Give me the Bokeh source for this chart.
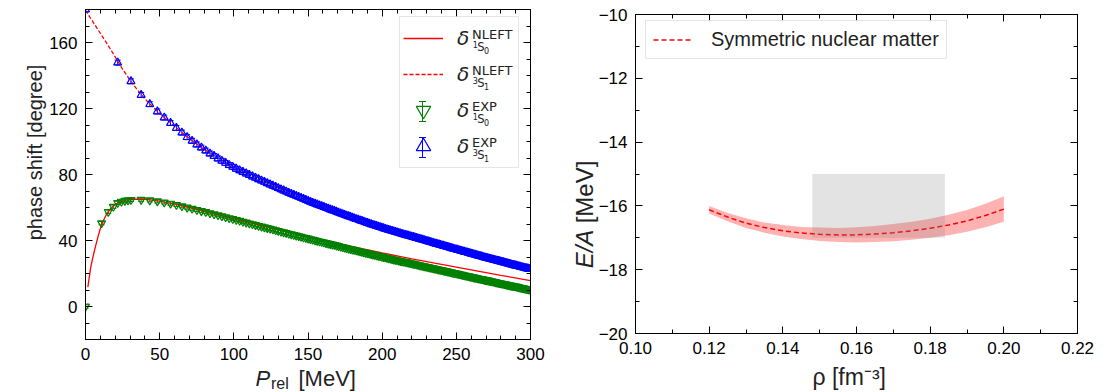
from math import pi
from bokeh.plotting import figure
from bokeh.layouts import row, column
from bokeh.models import (Range1d, LinearAxis, FixedTicker, CustomJSTickFormatter, Label,
                          Legend, LegendItem, ColumnDataSource, Whisker, TeeHead)
from bokeh.embed import file_html
from bokeh.resources import INLINE

# ------------------------------------------------------------------ data (left panel)
# relative momenta of the phase-shift analysis points, E_lab = 1 ... 191 MeV  [MeV]
p_grid = [21.67, 30.64, 37.53, 43.33, 48.45, 53.07, 57.33, 61.28, 65.0, 68.52, 71.86, 75.06,
          78.12, 81.07, 83.92, 86.67, 89.33, 91.92, 94.44, 96.9, 99.29, 101.63, 103.91, 106.15,
          108.34, 110.48, 112.58, 114.65, 116.68, 118.68, 120.64, 122.57, 124.47, 126.34, 128.18,
          130.0, 131.8, 133.56, 135.31, 137.03, 138.74, 140.42, 142.08, 143.72, 145.35, 146.95,
          148.54, 150.11, 151.67, 153.21, 154.73, 156.24, 157.74, 159.22, 160.69, 162.14, 163.58,
          165.01, 166.43, 167.83, 169.22, 170.61, 171.98, 173.34, 174.68, 176.02, 177.35, 178.67,
          179.98, 181.28, 182.57, 183.85, 185.12, 186.39, 187.64, 188.89, 190.13, 191.36, 192.58,
          193.8, 195.0, 196.2, 197.4, 198.58, 199.76, 200.93, 202.1, 203.25, 204.4, 205.55,
          206.69, 207.82, 208.95, 210.07, 211.18, 212.29, 213.4, 214.49, 215.58, 216.67, 217.75,
          218.82, 219.9, 220.96, 222.02, 223.07, 224.12, 225.17, 226.21, 227.24, 228.28, 229.3,
          230.32, 231.34, 232.35, 233.36, 234.36, 235.36, 236.36, 237.35, 238.34, 239.32, 240.3,
          241.27, 242.24, 243.21, 244.17, 245.13, 246.09, 247.04, 247.99, 248.93, 249.87, 250.81,
          251.75, 252.68, 253.6, 254.53, 255.45, 256.36, 257.28, 258.19, 259.1, 260.0, 260.9,
          261.8, 262.7, 263.59, 264.48, 265.36, 266.25, 267.13, 268.0, 268.88, 269.75, 270.62,
          271.48, 272.35, 273.21, 274.06, 274.92, 275.77, 276.62, 277.47, 278.31, 279.16, 280.0,
          280.83, 281.67, 282.5, 283.33, 284.16, 284.98, 285.8, 286.63, 287.44, 288.26, 289.07,
          289.88, 290.69, 291.5, 292.3, 293.1, 293.9, 294.7, 295.5, 296.29, 297.08, 297.87,
          298.66, 299.44]

p_exp_3s1 = [0.0] + p_grid
delta_exp_3s1 = [180.0,
                 147.8, 136.5, 128.2, 122.6, 118.2, 114.5, 111.2, 108.2, 105.4, 102.6, 100.4,
                 98.2, 96.3, 94.5, 92.7, 91.2, 89.7, 88.3, 87.0, 85.7, 84.6, 83.5, 82.5, 81.5,
                 80.6, 79.7, 78.8, 78.0, 77.1, 76.3, 75.5, 74.7, 73.95, 73.2, 72.45, 71.7, 71.0,
                 70.3, 69.6, 68.9, 68.25, 67.6, 67.0, 66.4, 65.8, 65.2, 64.6, 64.0, 63.4, 62.8,
                 62.3, 61.8, 61.3, 60.8, 60.3, 59.8, 59.3, 58.8, 58.35, 57.9, 57.4, 56.9, 56.45,
                 56.0, 55.55, 55.1, 54.7, 54.3, 53.85, 53.4, 53.0, 52.6, 52.2, 51.8, 51.4, 51.0,
                 50.6, 50.2, 49.85, 49.5, 49.15, 48.8, 48.45, 48.1, 47.75, 47.4, 47.05, 46.7, 46.4,
                 46.1, 45.8, 45.5, 45.2, 44.9, 44.6, 44.3, 44.0, 43.7, 43.45, 43.2, 42.9, 42.6,
                 42.35, 42.1, 41.8, 41.5, 41.25, 41.0, 40.75, 40.5, 40.2, 39.9, 39.65, 39.4, 39.15,
                 38.9, 38.6, 38.3, 38.05, 37.8, 37.55, 37.3, 37.05, 36.8, 36.55, 36.3, 36.05, 35.8,
                 35.55, 35.3, 35.05, 34.8, 34.6, 34.4, 34.15, 33.9, 33.65, 33.4, 33.2, 33.0, 32.75,
                 32.5, 32.25, 32.0, 31.8, 31.6, 31.35, 31.1, 30.9, 30.7, 30.5, 30.3, 30.05, 29.8,
                 29.6, 29.4, 29.2, 29.0, 28.8, 28.6, 28.4, 28.2, 28.0, 27.8, 27.6, 27.4, 27.2,
                 27.0, 26.8, 26.6, 26.4, 26.2, 26.0, 25.8, 25.6, 25.4, 25.2, 25.0, 24.85, 24.7,
                 24.5, 24.3, 24.1, 23.9, 23.75, 23.6, 23.4, 23.2, 23.05, 22.9, 22.7]

p_exp_1s0 = [0.0, 10.83, 15.32, 18.76, 21.67, 24.22, 26.54, 28.66] + p_grid[1:]
delta_exp_1s0 = [0.0, 50.5, 57.4, 60.5, 62.8, 63.6, 64.1, 64.4,
                 64.6, 64.7, 64.4, 63.8, 63.1, 62.4, 61.6, 60.8, 60.0, 59.3, 58.6, 57.9, 57.3,
                 56.6, 56.0, 55.4, 54.8, 54.2, 53.6, 53.1, 52.5, 52.0, 51.4, 50.9, 50.4, 49.9,
                 49.4, 48.9, 48.5, 48.05, 47.6, 47.15, 46.7, 46.25, 45.8, 45.4, 45.0, 44.6, 44.2,
                 43.8, 43.4, 43.05, 42.7, 42.3, 41.9, 41.55, 41.2, 40.85, 40.5, 40.15, 39.8, 39.5,
                 39.2, 38.85, 38.5, 38.2, 37.9, 37.6, 37.3, 36.95, 36.6, 36.3, 36.0, 35.7, 35.4,
                 35.1, 34.8, 34.55, 34.3, 34.0, 33.7, 33.4, 33.1, 32.85, 32.6, 32.3, 32.0, 31.75,
                 31.5, 31.25, 31.0, 30.75, 30.5, 30.25, 30.0, 29.75, 29.5, 29.25, 29.0, 28.75,
                 28.5, 28.3, 28.1, 27.85, 27.6, 27.4, 27.2, 27.0, 26.8, 26.55, 26.3, 26.1, 25.9,
                 25.7, 25.5, 25.25, 25.0, 24.8, 24.6, 24.4, 24.2, 24.0, 23.8, 23.6, 23.4, 23.2,
                 23.0, 22.8, 22.6, 22.4, 22.2, 22.0, 21.8, 21.6, 21.4, 21.2, 21.0, 20.8, 20.6,
                 20.4, 20.2, 20.05, 19.9, 19.7, 19.5, 19.3, 19.1, 18.9, 18.7, 18.55, 18.4, 18.2,
                 18.0, 17.8, 17.6, 17.45, 17.3, 17.1, 16.9, 16.75, 16.6, 16.4, 16.2, 16.05, 15.9,
                 15.75, 15.6, 15.4, 15.2, 15.05, 14.9, 14.7, 14.5, 14.35, 14.2, 14.05, 13.9, 13.75,
                 13.6, 13.4, 13.2, 13.05, 12.9, 12.75, 12.6, 12.45, 12.3, 12.15, 12.0, 11.8, 11.6,
                 11.45, 11.3, 11.15, 11.0, 10.85, 10.7, 10.55, 10.4, 10.25]

err_1s0 = 1.0
err_3s1 = 1.5

p_nleft_1s0 = [1.6, 2.5, 3.4, 4.5, 5.6, 7, 8.5, 10, 12, 14, 17, 20, 24, 28, 33, 40, 45, 50, 60,
               70, 80, 90, 100, 120, 140, 160, 180, 200, 220, 240, 260, 280, 300]
delta_nleft_1s0 = [11.7, 17.5, 23.0, 28.0, 32.2, 37.3, 42.5, 47.3, 52.0, 55.6, 59.4, 61.8, 63.7,
                   64.6, 65.1, 65.0, 64.5, 63.8, 62.1, 60.0, 57.7, 55.4, 53.1, 48.6, 44.3, 40.2,
                   36.3, 32.5, 28.9, 25.5, 22.2, 18.9, 15.7]

p_nleft_3s1 = [0, 5, 10, 15, 20, 25, 30, 35, 40, 50, 60, 70, 80, 90, 100, 120, 140, 160, 180,
               200, 220, 240, 260, 280, 300]
delta_nleft_3s1 = [179.5, 172.5, 165.6, 158.6, 151.3, 143.8, 137.3, 131.3, 125.8, 117.0, 109.3,
                   101.8, 95.2, 89.4, 84.3, 75.8, 67.9, 60.7, 54.0, 47.9, 42.5, 37.3, 32.3, 27.4,
                   22.8]

left_x_ticks = [0, 50, 100, 150, 200, 250, 300]
left_x_minor = list(range(0, 301, 10))
left_y_ticks = [0, 40, 80, 120, 160]
left_y_minor = list(range(-20, 181, 10))

# ------------------------------------------------------------------ data (right panel)
rho = [0.120, 0.125, 0.130, 0.135, 0.140, 0.145, 0.150, 0.155, 0.160, 0.165, 0.170, 0.175,
       0.180, 0.185, 0.190, 0.195, 0.200]
ea_mid = [-16.12, -16.35, -16.54, -16.68, -16.78, -16.85, -16.89, -16.91, -16.91, -16.88, -16.84,
          -16.78, -16.70, -16.60, -16.47, -16.30, -16.10]
ea_upper = [-16.00, -16.22, -16.39, -16.52, -16.60, -16.66, -16.68, -16.69, -16.67, -16.63,
            -16.57, -16.50, -16.40, -16.28, -16.13, -15.93, -15.70]
ea_lower = [-16.24, -16.48, -16.69, -16.84, -16.96, -17.04, -17.10, -17.13, -17.15, -17.13,
            -17.11, -17.06, -17.00, -16.92, -16.81, -16.67, -16.50]
sat_rho_min = [0.148]
sat_rho_max = [0.184]
sat_ea_min = [-17.0]
sat_ea_max = [-15.0]

right_x_ticks = [0.10, 0.12, 0.14, 0.16, 0.18, 0.20, 0.22]
right_x_minor = [0.10, 0.11, 0.12, 0.13, 0.14, 0.15, 0.16, 0.17, 0.18, 0.19, 0.20, 0.21, 0.22]
right_y_ticks = [-20, -18, -16, -14, -12, -10]
right_y_minor = list(range(-20, -9, 1))

# ------------------------------------------------------------------ styling helpers
FONT = "Liberation Sans"
MATH = "DejaVu Sans"
TICK_FS = 17
INK = "#222222"


def style_axis(ax, ticks, minor, fmt_code, show_labels=True):
    ax.ticker = FixedTicker(ticks=ticks, minor_ticks=minor)
    ax.axis_line_color = "black"
    ax.axis_line_width = 1
    ax.major_tick_line_color = "black"
    ax.minor_tick_line_color = "black"
    ax.major_tick_in = 7
    ax.major_tick_out = 0
    ax.minor_tick_in = 4
    ax.minor_tick_out = 0
    if show_labels:
        ax.formatter = CustomJSTickFormatter(code=fmt_code)
        ax.major_label_text_font = FONT
        ax.major_label_text_font_size = f"{TICK_FS}px"
        ax.major_label_text_color = "black"
        ax.major_label_standoff = 8
    else:
        ax.formatter = CustomJSTickFormatter(code="return '';")
        ax.major_label_text_font_size = "0px"
        ax.major_label_standoff = 0


def add_frame_axes(p, xt, xm, yt, ym):
    top = LinearAxis()
    style_axis(top, xt, xm, "", show_labels=False)
    p.add_layout(top, "above")
    right = LinearAxis()
    style_axis(right, yt, ym, "", show_labels=False)
    p.add_layout(right, "right")


def text_label(p, conv, side, px, py, text, size, italic=False, font=FONT, vertical=False,
               align="left"):
    """Place a text whose alphabetic baseline passes through page pixel (px, py)."""
    cx, cy = conv
    shift = 0.35 * size          # baseline -> middle of the text box
    if vertical:
        x, y, ang = cx(px - shift), cy(py), pi / 2
    else:
        x, y, ang = cx(px), cy(py - shift), 0.0
    lab = Label(x=x, y=y, text=text, text_font=font, text_font_size=f"{size}px",
                text_font_style="italic" if italic else "normal", text_color=INK,
                text_align=align, text_baseline="middle", angle=ang)
    if side is None:
        p.add_layout(lab)
    else:
        p.add_layout(lab, side)


# ------------------------------------------------------------------ left panel
LW, LH = 555, 392
FL, FR, FT, FB = 85, 25, 9, 53
p1 = figure(width=LW, height=LH, x_range=Range1d(0, 300), y_range=Range1d(-20, 180),
            output_backend="svg", toolbar_location=None,
            min_border_left=FL, min_border_right=FR, min_border_top=FT, min_border_bottom=FB)
p1.xgrid.visible = False
p1.ygrid.visible = False
p1.outline_line_color = "black"
p1.background_fill_color = "white"
p1.border_fill_color = "white"
style_axis(p1.xaxis[0], left_x_ticks, left_x_minor, "return tick.toFixed(0);")
style_axis(p1.yaxis[0], left_y_ticks, left_y_minor, "return tick.toFixed(0);")
add_frame_axes(p1, left_x_ticks, left_x_minor, left_y_ticks, left_y_minor)


def lx(px):
    return (px - FL) / (LW - FL - FR) * 300.0


def ly(py):
    return 180.0 - (py - FT) / (LH - FT - FB) * 200.0


LC = (lx, ly)

r_l1 = p1.line(p_nleft_1s0, delta_nleft_1s0, line_color="red", line_width=1.3)
r_l3 = p1.line(p_nleft_3s1, delta_nleft_3s1, line_color="red", line_width=1.3, line_dash="4 2")

src_1s0 = ColumnDataSource(dict(x=p_exp_1s0, y=delta_exp_1s0,
                                up=[v + err_1s0 for v in delta_exp_1s0],
                                lo=[v - err_1s0 for v in delta_exp_1s0]))
src_3s1 = ColumnDataSource(dict(x=p_exp_3s1, y=delta_exp_3s1,
                                up=[v + err_3s1 for v in delta_exp_3s1],
                                lo=[v - err_3s1 for v in delta_exp_3s1]))
for src, col in ((src_1s0, "green"), (src_3s1, "blue")):
    p1.add_layout(Whisker(source=src, base="x", upper="up", lower="lo", dimension="height",
                          line_color=col, line_width=1,
                          upper_head=TeeHead(size=6, line_color=col, line_width=1),
                          lower_head=TeeHead(size=6, line_color=col, line_width=1)))

r_e1 = p1.scatter("x", "y", source=src_1s0, marker="inverted_triangle", size=8,
                  line_color="green", line_width=1.2, fill_color=None)
r_e3 = p1.scatter("x", "y", source=src_3s1, marker="triangle", size=8,
                  line_color="blue", line_width=1.2, fill_color=None)

# legend
LEG_LEFT, LEG_TOP, PAD, ROWH = 399, 18, 3, 36
leg1 = Legend(items=[LegendItem(label="δ", renderers=[r_l1]),
                     LegendItem(label="δ", renderers=[r_l3]),
                     LegendItem(label="δ", renderers=[r_e1]),
                     LegendItem(label="δ", renderers=[r_e3])],
              location=(LEG_LEFT - FL, (LH - FB) - (LEG_TOP + 2 * PAD + 4 * ROWH)),
              padding=PAD, spacing=0, glyph_width=40, glyph_height=ROWH, label_height=ROWH,
              label_width=58, label_standoff=14,
              label_text_font=MATH, label_text_font_size="20px", label_text_font_style="italic",
              label_text_color=INK,
              border_line_color="#cccccc", border_line_width=1,
              background_fill_color="white", background_fill_alpha=0.0)
p1.add_layout(leg1)

row_c = [LEG_TOP + PAD + ROWH / 2 + i * ROWH for i in range(4)]
sups = ["NLEFT", "NLEFT", "EXP", "EXP"]
pre = ["1", "3", "1", "3"]
post = ["0", "1", "0", "1"]
for c, s, a, b in zip(row_c, sups, pre, post):
    text_label(p1, LC, None, 471.5, c - 0.5, s, 13, font=MATH)
    text_label(p1, LC, None, 472.3, c + 7.3, a, 8, font=MATH)
    text_label(p1, LC, None, 476.7, c + 12.0, "S", 11.5, font=MATH)
    text_label(p1, LC, None, 483.6, c + 13.3, b, 8, font=MATH)

# error bars of the legend markers
gx = lx(LEG_LEFT + PAD + 20)
for c, col in ((row_c[2], "green"), (row_c[3], "blue")):
    p1.segment(x0=[gx], y0=[ly(c - 10)], x1=[gx], y1=[ly(c + 10)], line_color=col, line_width=1)
    p1.scatter(x=[gx, gx], y=[ly(c - 10), ly(c + 10)], marker="dash", size=7,
               line_color=col, line_width=1)

# axis labels (placed in the side panels so that they are not clipped by the frame)
text_label(p1, LC, "left", 41, 152, "phase shift [degree]", 20, vertical=True, align="center")
text_label(p1, LC, "right", 255, 386, "P", 22, italic=True)
text_label(p1, LC, "left", 270.5, 388.5, "rel", 16)
text_label(p1, LC, "below", 298, 386, "[MeV]", 22)

# ------------------------------------------------------------------ right panel
RW, RH = 556, 392
GL, GR, GT, GB = 80, 34, 14, 59
p2 = figure(width=RW, height=RH, x_range=Range1d(0.10, 0.22), y_range=Range1d(-20, -10),
            output_backend="svg", toolbar_location=None,
            min_border_left=GL, min_border_right=GR, min_border_top=GT, min_border_bottom=GB)
p2.xgrid.visible = False
p2.ygrid.visible = False
p2.outline_line_color = "black"
p2.background_fill_color = "white"
p2.border_fill_color = "white"
style_axis(p2.xaxis[0], right_x_ticks, right_x_minor, "return tick.toFixed(2);")
style_axis(p2.yaxis[0], right_y_ticks, right_y_minor,
           "return (tick < 0 ? '\u2212' : '') + Math.abs(tick).toFixed(0);")
add_frame_axes(p2, right_x_ticks, right_x_minor, right_y_ticks, right_y_minor)


def rx(px):
    # px: horizontal pixel position on the whole page
    return 0.10 + (px - (LW + GL)) / (RW - GL - GR) * 0.12


def ry(py):
    return -10.0 - (py - GT) / (RH - GT - GB) * 10.0


RC = (rx, ry)

p2.varea(x=rho, y1=ea_lower, y2=ea_upper, fill_color="red", fill_alpha=0.3)
r_snm = p2.line(rho, ea_mid, line_color="red", line_width=1.5, line_dash="5 3")
p2.quad(left=sat_rho_min, right=sat_rho_max, bottom=sat_ea_min, top=sat_ea_max,
        fill_color="grey", fill_alpha=0.22, line_color=None)

leg2 = Legend(items=[LegendItem(label="Symmetric nuclear matter", renderers=[r_snm])],
              location=(645 - (LW + GL), (RH - GB) - 59),
              padding=7, spacing=0, glyph_width=38, glyph_height=21, label_height=21,
              label_standoff=20, label_text_font=FONT, label_text_font_size="20px",
              label_text_color=INK,
              border_line_color="#cccccc", border_line_width=1,
              background_fill_color="white", background_fill_alpha=0.8)
p2.add_layout(leg2)

text_label(p2, RC, "below", 812, 385, "ρ [fm\u207b\u00b3]", 23)
# vertical label "E/A [MeV]": both pieces centred on their own extent
text_label(p2, RC, "left", 592, 248.5, "E/A", 24, italic=True, vertical=True, align="center")
text_label(p2, RC, "right", 592, 191.5, "[MeV]", 24, vertical=True, align="center")

layout = row(column(p1), column(p2))
open("out.html", "w").write(file_html(layout, INLINE))
